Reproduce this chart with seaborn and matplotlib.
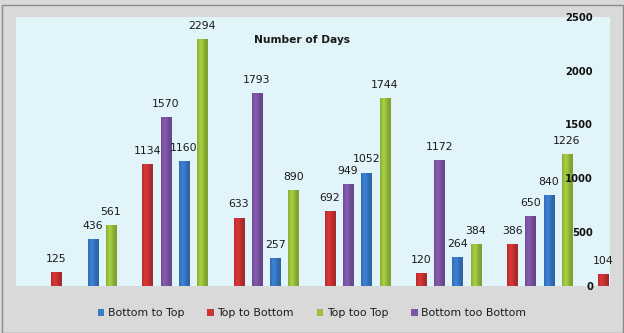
import numpy as np
import pandas as pd
import matplotlib
matplotlib.use("Agg")
import matplotlib.pyplot as plt
import matplotlib.colors as mcolors
import seaborn as sns
from matplotlib.patches import Rectangle, Patch

# ---- data ----
categories = ["1", "2", "3", "4", "5", "6", "7"]
top_to_bottom = [125, 1134, 633, 692, 120, 386, 104]
bottom_too_bottom = [None, 1570, 1793, 949, 1172, 650, None]
bottom_to_top = [436, 1160, 257, 1052, 264, 840, None]
top_too_top = [561, 2294, 890, 1744, 384, 1226, None]
y_ticks = [0, 500, 1000, 1500, 2000, 2500]
title = "Number of Days"

series = {
    "Top to Bottom": top_to_bottom,
    "Bottom too Bottom": bottom_too_bottom,
    "Bottom to Top": bottom_to_top,
    "Top too Top": top_too_top,
}
legend_order = ["Bottom to Top", "Top to Bottom", "Top too Top", "Bottom too Bottom"]
colors = {
    "Top to Bottom": "#cc3333",
    "Bottom too Bottom": "#7d55a5",
    "Bottom to Top": "#3879c8",
    "Top too Top": "#9bc23c",
}

rows = []
for name, vals in series.items():
    for c, v in zip(categories, vals):
        if v is not None:
            rows.append((c, name, v))
df = pd.DataFrame(rows, columns=["cat", "series", "days"])

sns.set_theme(style="white")
plt.rcParams["font.family"] = ["DejaVu Sans"]

W, H = 624, 333
fig = plt.figure(figsize=(W / 100, H / 100), dpi=100, facecolor="#d9d9d9")
left, right, top, bottom = 16, 610, 17, 285.5
ax = fig.add_axes([left / W, 1 - bottom / H, (right - left) / W, (bottom - top) / H])
ax.set_facecolor("#e1f4f9")

sns.barplot(data=df, x="cat", y="days", hue="series", order=categories,
            hue_order=list(series), palette=colors, width=0.8, gap=0.45,
            saturation=1, errorbar=None, legend=False, ax=ax,
            edgecolor="none", linewidth=0)

xlim = (-0.741, 5.772)
ylim = (0, 2500)

# subtle horizontal shading on each bar, clipped to the bar
prof = np.linspace(0, 1, 32)
shade = 0.82 + 0.24 * np.exp(-((prof - 0.35) / 0.32) ** 2)
for cont in ax.containers:
    for p in cont:
        h = p.get_height()
        if h is None or np.isnan(h):
            continue
        base = np.array(mcolors.to_rgb(p.get_facecolor()))
        img = np.clip(base[None, None, :] * shade[None, :, None], 0, 1)
        im = ax.imshow(img, extent=(p.get_x(), p.get_x() + p.get_width(), 0, h),
                       aspect="auto", interpolation="bilinear", zorder=p.get_zorder() + 0.1)
        im.set_clip_path(p)
        ax.annotate(f"{h:.0f}", (p.get_x() + p.get_width() / 2, h),
                    xytext=(0, 9.4), textcoords="offset points",
                    ha="center", va="center", fontsize=7.8, color="#1a1a1a",
                    annotation_clip=False, zorder=6)

ax.set_xlim(*xlim)
ax.set_ylim(*ylim)
ax.set_xticks([])
ax.set_xlabel("")
ax.set_ylabel("")
for s in ax.spines.values():
    s.set_visible(False)

ax.yaxis.tick_right()
ax.set_yticks(y_ticks)
ax.set_yticklabels([str(t) for t in y_ticks])
ax.tick_params(axis="y", length=0, pad=-12.2, labelsize=7.2, labelcolor="#111111")
for t in ax.get_yticklabels():
    t.set_fontweight("bold")
    t.set_horizontalalignment("right")
ax.yaxis.set_zorder(5)

fig.text(301.7 / W, 1 - 40 / H, title, ha="center", va="center",
         fontsize=7.7, fontweight="bold", color="#1a1a1a")

handles = [Patch(facecolor=colors[n], edgecolor="none") for n in legend_order]
fig.legend(handles, legend_order, ncol=4, loc="center",
           bbox_to_anchor=(0.5, 1 - 313 / H), frameon=False, fontsize=7.8,
           handlelength=0.6, handleheight=0.6, handletextpad=0.35,
           columnspacing=2.1, labelcolor="#1a1a1a")

fig.patches.append(Rectangle((1.5 / W, 0), (622.5 - 1.5) / W, (H - 4.5) / H,
                             transform=fig.transFigure, fill=False,
                             edgecolor="#8a8a8a", lw=1))

fig.savefig("out.png", dpi=100, facecolor=fig.get_facecolor())
